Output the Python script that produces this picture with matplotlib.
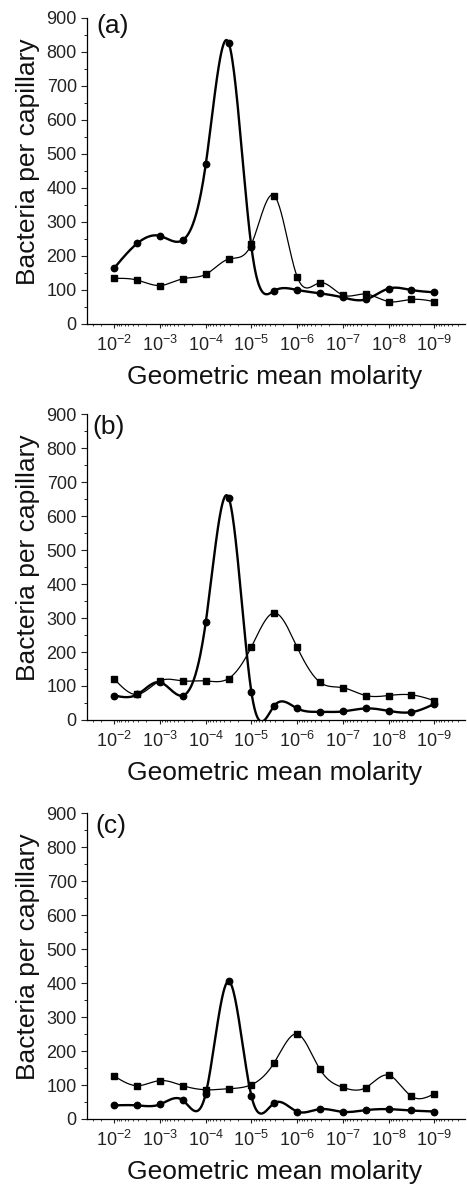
import numpy as np
import matplotlib
matplotlib.use("Agg")
import matplotlib.pyplot as plt
from matplotlib.ticker import (FixedLocator, MultipleLocator, NullFormatter,
                               LogFormatterSciNotation)

plt.rcParams['font.family'] = ['Liberation Sans', 'DejaVu Sans']
plt.rcParams['mathtext.fontset'] = 'custom'
plt.rcParams['mathtext.rm'] = 'Liberation Sans'
plt.rcParams['mathtext.it'] = 'Liberation Sans:italic'
plt.rcParams['mathtext.bf'] = 'Liberation Sans:bold'

# molarity: 10^-2 ... 10^-9 in half-decade steps
log_molarity = [-2.0, -2.5, -3.0, -3.5, -4.0, -4.5, -5.0, -5.5,
                -6.0, -6.5, -7.0, -7.5, -8.0, -8.5, -9.0]

circles_a = [165, 237, 259, 247, 470, 827, 225, 98, 100, 90, 78, 72, 104, 100, 93]
squares_a = [134, 129, 113, 133, 146, 191, 235, 377, 139, 121, 85, 88, 66, 72, 66]

circles_b = [72, 75, 111, 72, 288, 654, 81, 42, 34, 24, 25, 34, 27, 23, 47]
squares_b = [120, 75, 115, 115, 115, 122, 215, 315, 214, 111, 95, 72, 72, 74, 57]

circles_c = [40, 40, 43, 55, 75, 405, 67, 47, 22, 29, 21, 26, 29, 25, 22]
squares_c = [126, 98, 113, 98, 86, 89, 101, 166, 250, 146, 93, 92, 129, 67, 74]

panels = ['(a)', '(b)', '(c)']

x_left, x_right = 10 ** -1.4, 10 ** -9.68
decades = 10.0 ** np.arange(-2, -10, -1)


def natural_spline(x, y, xs):
    # plain natural cubic spline, x must be increasing
    x = np.asarray(x, float)
    y = np.asarray(y, float)
    n = len(x)
    h = np.diff(x)
    A = np.zeros((n, n))
    r = np.zeros(n)
    A[0, 0] = 1
    A[-1, -1] = 1
    for i in range(1, n - 1):
        A[i, i - 1] = h[i - 1]
        A[i, i] = 2 * (h[i - 1] + h[i])
        A[i, i + 1] = h[i]
        r[i] = 6 * ((y[i + 1] - y[i]) / h[i] - (y[i] - y[i - 1]) / h[i - 1])
    M = np.linalg.solve(A, r)
    idx = np.clip(np.searchsorted(x, xs) - 1, 0, n - 2)
    x0, x1 = x[idx], x[idx + 1]
    hh = x1 - x0
    a = (x1 - xs) / hh
    b = (xs - x0) / hh
    return (a * y[idx] + b * y[idx + 1]
            + ((a ** 3 - a) * M[idx] + (b ** 3 - b) * M[idx + 1]) * hh ** 2 / 6)


def smooth(ys):
    lx = np.array(log_molarity)[::-1]
    yy = np.array(ys)[::-1]
    fine = np.linspace(lx[0], lx[-1], 600)
    return 10 ** fine, natural_spline(lx, yy, fine)


# minor ticks 2..9 per decade, kept inside the view
minors = np.outer(10.0 ** np.arange(-10, -1), np.arange(2, 10)).ravel()
minors = minors[(minors < x_left) & (minors > x_right * 1.01)]

fig = plt.figure(figsize=(4.67, 11.84), dpi=100)
bottoms = [0.7264, 0.3919, 0.0549]
label_pos = [(0.026, 0.975), (0.013, 0.958), (0.021, 0.958)]
data = [(circles_a, squares_a), (circles_b, squares_b), (circles_c, squares_c)]
xs = 10 ** np.array(log_molarity)

for k, (circ, sq) in enumerate(data):
    ax = fig.add_axes([0.1863, bottoms[k], 0.81, 0.2584])

    fx, fy = smooth(sq)
    ax.plot(fx, fy, color='black', lw=0.9)
    ax.plot(xs, sq, 's', color='black', ms=4.8)

    fx, fy = smooth(circ)
    ax.plot(fx, fy, color='black', lw=1.7)
    ax.plot(xs, circ, 'o', color='black', ms=4.6)

    ax.set_xscale('log')
    ax.set_xlim(x_left, x_right)
    ax.set_ylim(0, 900)
    ax.xaxis.set_major_locator(FixedLocator(decades))
    ax.xaxis.set_major_formatter(LogFormatterSciNotation())
    ax.xaxis.set_minor_locator(FixedLocator(minors))
    ax.xaxis.set_minor_formatter(NullFormatter())
    ax.yaxis.set_major_locator(MultipleLocator(100))
    ax.yaxis.set_minor_locator(MultipleLocator(50))

    for s in ['top', 'right']:
        ax.spines[s].set_visible(False)
    for s in ['left', 'bottom']:
        ax.spines[s].set_linewidth(0.9)

    ax.tick_params(axis='both', which='both', direction='out', colors='#222222')
    ax.tick_params(axis='y', which='major', length=4.3, width=0.8, pad=3, labelsize=13)
    ax.tick_params(axis='y', which='minor', length=2.0, width=0.7)
    ax.tick_params(axis='x', which='major', length=3.0, width=0.8, pad=5, labelsize=13)
    ax.tick_params(axis='x', which='minor', length=1.7, width=0.6)

    ax.set_xlabel('Geometric mean molarity', fontsize=19, va='center', color='#111111')
    ax.xaxis.set_label_coords(0.495, -0.173)
    ax.set_ylabel('Bacteria per capillary', fontsize=19, va='center', color='#111111')
    ax.yaxis.set_label_coords(-0.155, 0.53)

    ax.text(label_pos[k][0], label_pos[k][1], panels[k], transform=ax.transAxes,
            fontsize=19, ha='left', va='center', color='#111111')

fig.savefig('out.png', dpi=100)
